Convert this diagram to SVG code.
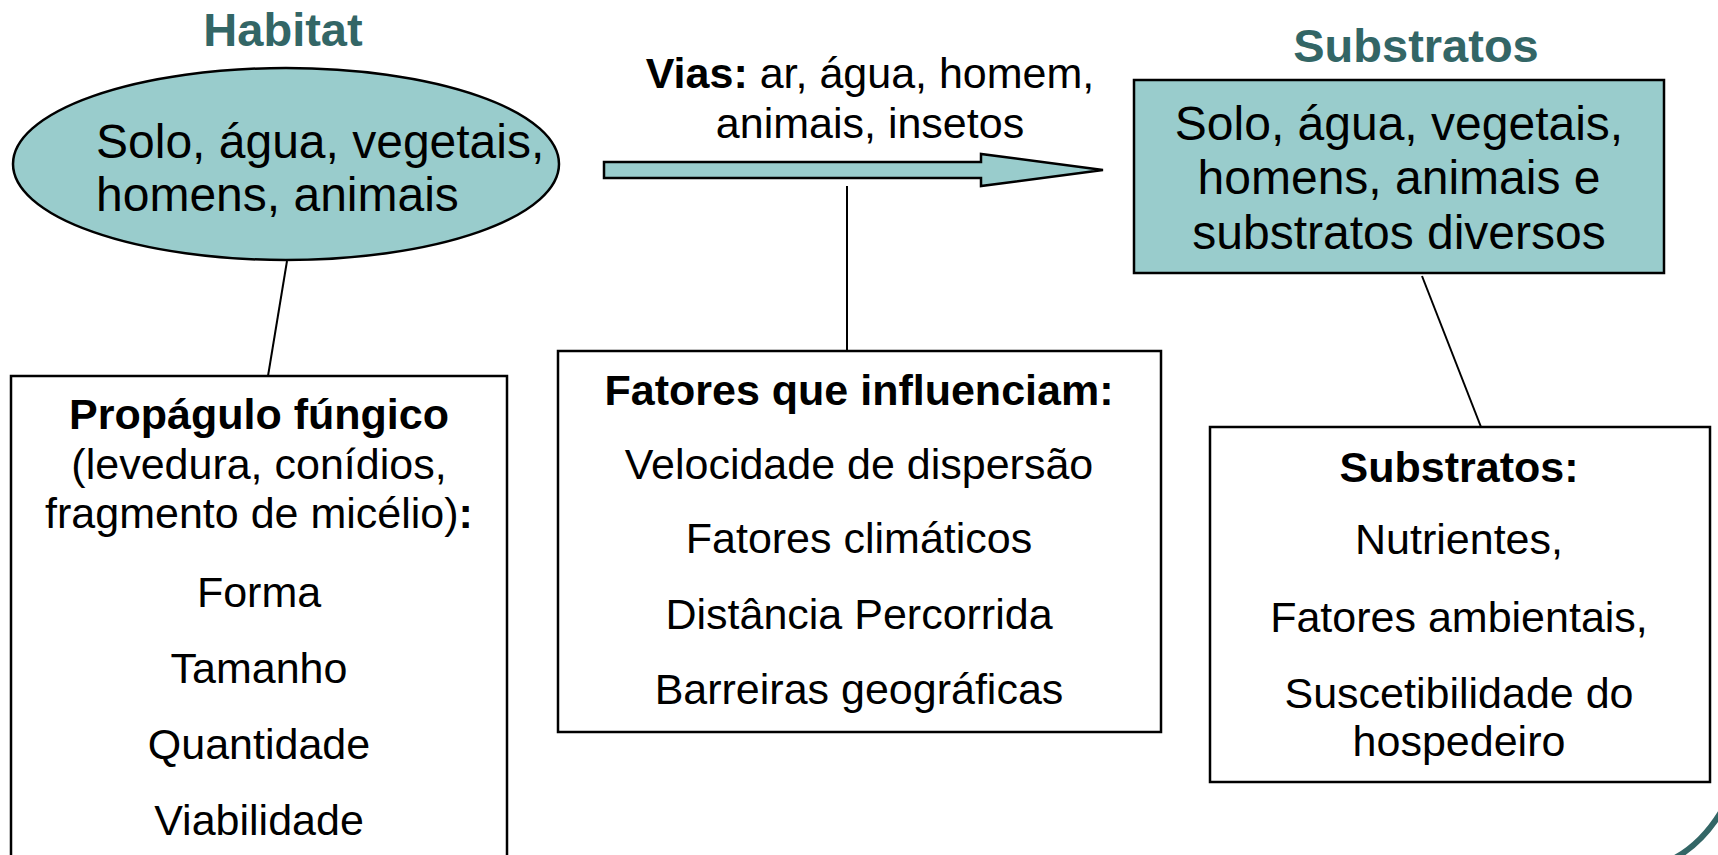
<svg xmlns="http://www.w3.org/2000/svg" width="1718" height="855" viewBox="0 0 1718 855">
<style>
text{font-family:"Liberation Sans",Arial,sans-serif;fill:#000}
.t{font-size:43px;text-anchor:middle}
.b{font-weight:bold}
.title{font-size:47px;font-weight:bold;fill:#336666;text-anchor:middle}
.big{font-size:48px}
.teal{fill:#99CCCC;stroke:#000;stroke-width:2.5}
.box{fill:#fff;stroke:#000;stroke-width:2.5}
.conn{stroke:#000;stroke-width:2;fill:none}
</style>
<rect width="1718" height="855" fill="#fff"/>
<g id="connectors">
<line class="conn" x1="287" y1="261" x2="268" y2="376"/>
<line class="conn" x1="847" y1="186" x2="847" y2="351"/>
<line class="conn" x1="1422" y1="276" x2="1481" y2="427"/>
<path id="arrow" class="teal" d="M604,162 L981,162 L981,154 L1103,170 L981,186 L981,178 L604,178 Z"/>
</g>
<g id="habitat">
<text class="title" x="283" y="46">Habitat</text>
<ellipse class="teal" cx="286" cy="164" rx="273" ry="96"/>
<text class="big" x="96" y="158">Solo, água, vegetais,</text>
<text class="big" x="96" y="211">homens, animais</text>
</g>
<g id="vias">
<text class="t" x="870" y="88"><tspan class="b">Vias:</tspan> ar, água, homem,</text>
<text class="t" x="870" y="138">animais, insetos</text>
</g>
<g id="substratos">
<text class="title" x="1416" y="62">Substratos</text>
<rect class="teal" x="1134" y="80" width="530" height="193"/>
<text class="big" x="1399" y="140" text-anchor="middle">Solo, água, vegetais,</text>
<text class="big" x="1399" y="194" text-anchor="middle">homens, animais e</text>
<text class="big" x="1399" y="249" text-anchor="middle">substratos diversos</text>
</g>
<g id="propagulo">
<rect class="box" x="11" y="376" width="496" height="500"/>
<text class="t b" x="259" y="429">Propágulo fúngico</text>
<text class="t" x="259" y="479">(levedura, conídios,</text>
<text class="t" x="259" y="528">fragmento de micélio)<tspan class="b">:</tspan></text>
<text class="t" x="259" y="607">Forma</text>
<text class="t" x="259" y="683">Tamanho</text>
<text class="t" x="259" y="759">Quantidade</text>
<text class="t" x="259" y="835">Viabilidade</text>
</g>
<g id="fatores">
<rect class="box" x="558" y="351" width="603" height="381"/>
<text class="t b" x="859" y="405">Fatores que influenciam:</text>
<text class="t" x="859" y="479">Velocidade de dispersão</text>
<text class="t" x="859" y="553">Fatores climáticos</text>
<text class="t" x="859" y="629">Distância Percorrida</text>
<text class="t" x="859" y="704">Barreiras geográficas</text>
</g>
<g id="substratos-box">
<rect class="box" x="1210" y="427" width="500" height="355"/>
<text class="t b" x="1459" y="482">Substratos:</text>
<text class="t" x="1459" y="554">Nutrientes,</text>
<text class="t" x="1459" y="632">Fatores ambientais,</text>
<text class="t" x="1459" y="708">Suscetibilidade do</text>
<text class="t" x="1459" y="756">hospedeiro</text>
</g>
<path id="corner-arc" d="M1721,812 Q1702,843 1675,858" fill="none" stroke="#336666" stroke-width="6"/>
</svg>
